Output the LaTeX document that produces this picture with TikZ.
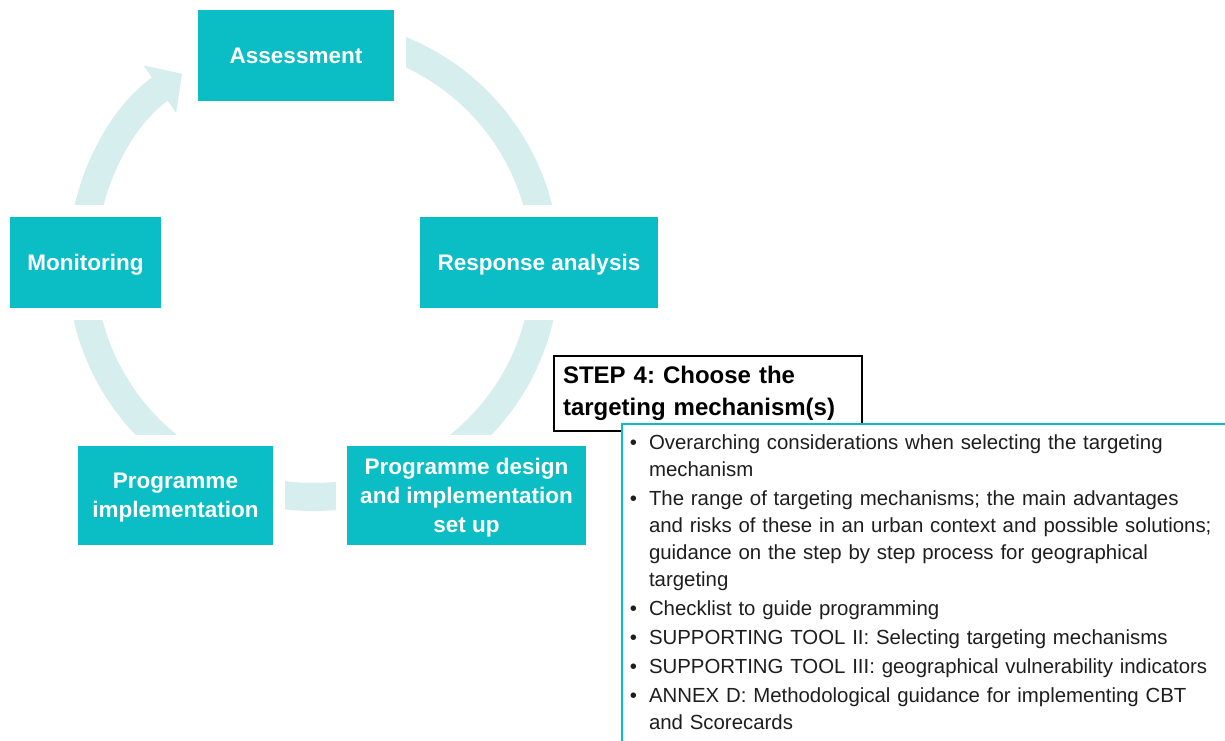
\documentclass[tikz,border=0pt]{standalone}
\usepackage{fontspec}
\setmainfont{Liberation Sans}
\usepackage{enumitem}
\usetikzlibrary{arrows.meta}
\definecolor{boxteal}{RGB}{11,189,196}
\definecolor{ringteal}{RGB}{214,238,238}
\definecolor{listtext}{RGB}{30,30,30}
\frenchspacing

\begin{document}
\begin{tikzpicture}[x=1pt,y=1pt,
  stagebox/.style={rectangle,fill=boxteal,text=white,align=center,inner sep=0pt,text depth=0pt,
    font=\fontsize{22.5}{29}\selectfont\bfseries,preaction={draw=white,line width=23pt}},
  ringstyle/.style={draw=ringteal,line width=28pt,-{Triangle[length=27pt,width=56pt]}},
  stepbox/.style={rectangle,draw=black,line width=2.2pt,fill=white,text width=290pt,align=left,
    inner xsep=9pt,minimum height=75pt,font=\fontsize{24}{32}\selectfont\bfseries},
  toolbox/.style={rectangle,draw=boxteal,line width=2pt,fill=white,text width=640pt,
    inner xsep=0pt,inner ysep=0pt,text=listtext,font=\fontsize{20.4}{27}\selectfont}]
\clip (0,0) rectangle (1225,740);
\useasboundingbox (0,0) rectangle (1225,740);
\fill [white] (0,0) rectangle (1225,740);
\coordinate (hub) at (313.5,475);
\draw [ringstyle] (hub) ++(90:232) arc[start angle=450,end angle=124.5,radius=232];
       \node [stagebox,minimum width=196pt,minimum height=91pt] (assess) at (296,684.5) {Assessment};
       \node [stagebox,minimum width=238pt,minimum height=91pt] (resp) at (539,477.5) {Response analysis};
       \node [stagebox,minimum width=151pt,minimum height=91pt] (monit) at (85.5,477.5) {Monitoring};
       \node [stagebox,minimum width=195pt,minimum height=99pt] (impl) at (175.5,244.5) {Programme\\implementation};
       \node [stagebox,minimum width=239pt,minimum height=99pt] (design) at (466.5,244.5) {Programme design\\and implementation\\set up};
       \node [stepbox] (step) at (708,346.5) {STEP 4: Choose the\\targeting mechanism(s)};
       \node [toolbox,anchor=north west] (tools) at (621,317) {\vspace*{-2pt}%
\begin{itemize}[leftmargin=27pt,labelsep=12pt,itemsep=2pt,topsep=0pt,parsep=0pt,partopsep=0pt,label=\textbullet]
\raggedright
\item Overarching considerations when selecting the targeting\newline mechanism
\item The range of targeting mechanisms; the main advantages\newline and risks of these in an urban context and possible solutions;\newline guidance on the step by step process for geographical\newline targeting
\item Checklist to guide programming
\item SUPPORTING TOOL II: Selecting targeting mechanisms
\item SUPPORTING TOOL III: geographical vulnerability indicators
\item ANNEX D: Methodological guidance for implementing CBT\newline and Scorecards
\end{itemize}\vspace*{30pt}};
\end{tikzpicture}
\end{document}
